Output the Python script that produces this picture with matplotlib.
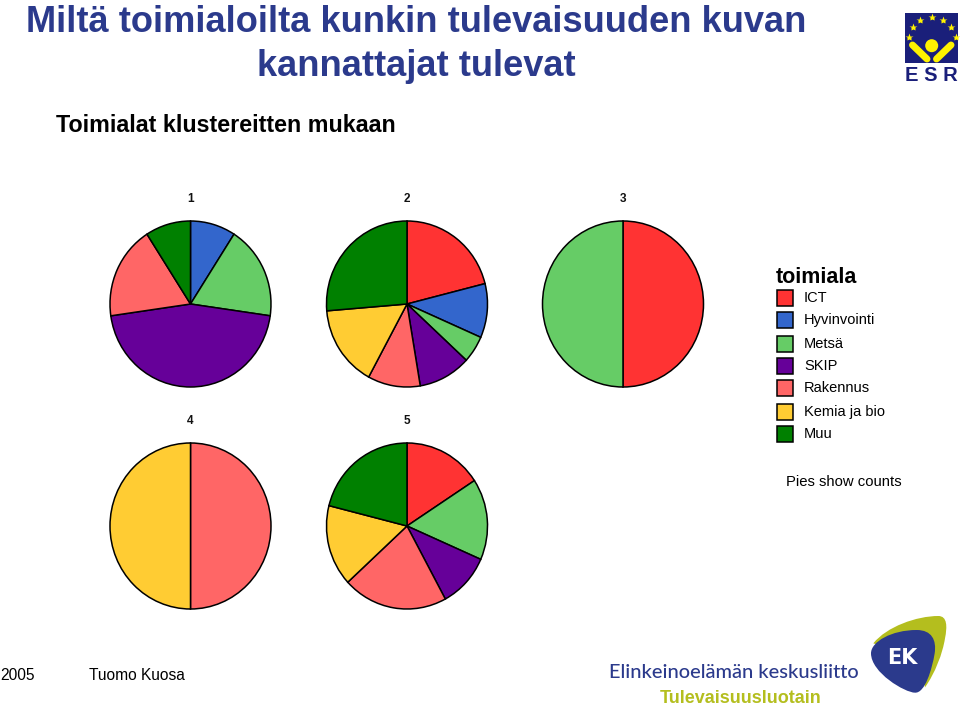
import matplotlib

matplotlib.use("Agg")
import matplotlib.pyplot as plt
from matplotlib.patches import Circle, PathPatch, Rectangle
from matplotlib.path import Path

W, H = 960, 707

industries = ["ICT", "Hyvinvointi", "Metsä", "SKIP", "Rakennus", "Kemia ja bio", "Muu"]
colors = ["#FF3333", "#3366CC", "#66CC66", "#660099", "#FF6666", "#FFCC33", "#008000"]

# counts per cluster, same order as industries
cluster_1 = [0, 1, 2, 5, 2, 0, 1]
cluster_2 = [4, 2, 1, 2, 2, 3, 5]
cluster_3 = [1, 0, 1, 0, 0, 0, 0]
cluster_4 = [0, 0, 0, 0, 1, 1, 0]
cluster_5 = [3, 0, 3, 2, 4, 3, 4]
clusters = [cluster_1, cluster_2, cluster_3, cluster_4, cluster_5]
cluster_names = ["1", "2", "3", "4", "5"]

pie_centers = [(190.5, 304), (407, 304), (623, 304), (190.5, 526), (407, 526)]
RX, RY = 80.5, 83
BLUE = "#2B3A8C"
OLIVE = "#B4BE1E"

plt.rcParams["font.family"] = ["Liberation Sans", "DejaVu Sans"]
fig = plt.figure(figsize=(W / 100, H / 100), dpi=100, facecolor="white")

# overlay in pixel coordinates for texts, legend and logos
bg = fig.add_axes([0, 0, 1, 1])
bg.set_xlim(0, W)
bg.set_ylim(H, 0)
bg.axis("off")

bg.text(416.5, 32, "Miltä toimialoilta kunkin tulevaisuuden kuvan", ha="center", va="baseline",
        fontsize=26.1, fontweight="bold", color=BLUE)
bg.text(416.5, 76, "kannattajat tulevat", ha="center", va="baseline",
        fontsize=26.1, fontweight="bold", color=BLUE)
bg.text(56, 132, "Toimialat klustereitten mukaan", ha="left", va="baseline",
        fontsize=16.75, fontweight="bold", color="black")


def draw_pie(counts, cx, cy):
    # axes a little larger than the pie so the outline is not clipped
    pad = 1.05
    ax = fig.add_axes([(cx - RX * pad) / W, 1 - (cy + RY * pad) / H, 2 * RX * pad / W, 2 * RY * pad / H])
    shown = [(c, col) for c, col in zip(counts, colors) if c > 0]
    ax.pie([s[0] for s in shown], colors=[s[1] for s in shown], startangle=90, counterclock=False,
           wedgeprops={"edgecolor": "black", "linewidth": 1.1})
    ax.set_aspect("auto")
    ax.set_xlim(-pad, pad)
    ax.set_ylim(-pad, pad)
    ax.patch.set_alpha(0)


for counts, name, (cx, cy) in zip(clusters, cluster_names, pie_centers):
    draw_pie(counts, cx, cy)
    bg.text(cx, cy - 104.5, name, ha="center", va="center", fontsize=8.5, fontweight="bold", color="#111111")

# legend
bg.text(776, 283, "toimiala", ha="left", va="baseline", fontsize=15.5, fontweight="bold", color="black")
legend_y = [297.5, 319.5, 343.5, 365.5, 387.5, 411.5, 433.5]
for label, col, y in zip(industries, colors, legend_y):
    bg.add_patch(Rectangle((776.5, y - 8), 16, 16, facecolor=col, edgecolor="black", linewidth=1.1))
    bg.text(804, y + 0.7, label, ha="left", va="center", fontsize=10.5, color="black")
bg.text(786, 482, "Pies show counts", ha="left", va="center", fontsize=10.7, color="black")

# footer
bg.text(0, 680, "2005", ha="left", va="baseline", fontsize=11.2, color="black")
bg.text(89, 680, "Tuomo Kuosa", ha="left", va="baseline", fontsize=11.2, color="black")
bg.text(609, 678, "Elinkeinoelämän keskusliitto", ha="left", va="baseline", fontsize=14.45, family="Lato",
        fontweight="medium", color=BLUE)
bg.text(740.5, 703, "Tulevaisuusluotain", ha="center", va="baseline", fontsize=13, fontweight="bold", color=OLIVE)

# ESR logo
bg.add_patch(Rectangle((905, 13), 53, 50, facecolor="#1A1F7A", edgecolor="none"))
star_x = [909, 912.7, 920, 931.7, 943.3, 950.7, 955.7]
star_y = [37.3, 27.3, 20, 17.3, 20, 27.3, 37.3]
bg.plot(star_x, star_y, ls="none", marker="*", ms=6, color="#FFF200", mec="none")
bg.plot([912.5, 927], [45, 59], color="#FFF200", lw=5, solid_capstyle="round")
bg.plot([951, 936.5], [45, 59], color="#FFF200", lw=5, solid_capstyle="round")
bg.add_patch(Circle((931.7, 45.7), 6.5, facecolor="#FFF200", edgecolor="none"))
bg.text(931.5, 81, "E S R", ha="center", va="baseline", fontsize=14.5, fontweight="bold", color="#1A1F7A")


# EK logo, outlines traced on a 3x crop whose origin is (860, 610)
def ek_path(points):
    verts = [(860 + x / 3, 610 + y / 3) for x, y in points]
    codes = [Path.MOVETO] + [Path.CURVE4] * (len(verts) - 1)
    return Path(verts + [verts[0]], codes + [Path.CLOSEPOLY])


olive_points = [(40, 100), (80, 50), (170, 18), (235, 18), (262, 18), (262, 50), (255, 85),
                (248, 130), (225, 190), (195, 232), (180, 160), (100, 120), (40, 100)]
blue_points = [(33, 130), (33, 95), (95, 60), (170, 60), (215, 60), (230, 90), (224, 130),
               (216, 178), (195, 250), (165, 248), (135, 248), (33, 188), (33, 130)]
bg.add_patch(PathPatch(ek_path(olive_points), facecolor=OLIVE, edgecolor="none"))
bg.add_patch(PathPatch(ek_path(blue_points), facecolor=BLUE, edgecolor="none"))
bg.text(902, 658, "EK", ha="center", va="center", fontsize=15, fontweight="bold", family="DejaVu Sans", color="white")

fig.savefig("out.png", dpi=100)
plt.close(fig)
